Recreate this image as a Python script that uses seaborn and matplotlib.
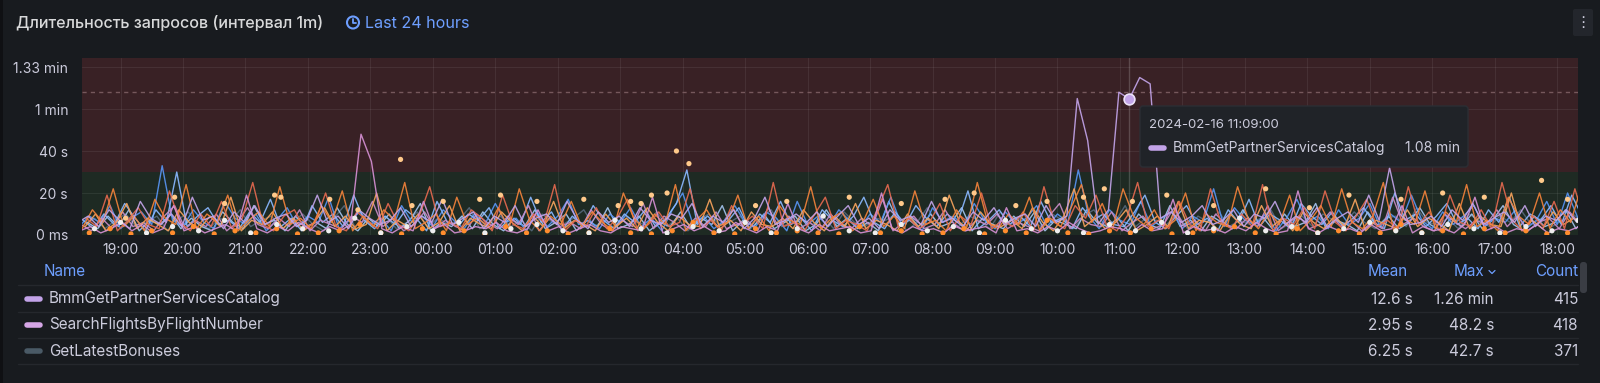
import numpy as np
import pandas as pd
import matplotlib
matplotlib.use("Agg")
import matplotlib.pyplot as plt
import matplotlib.dates as mdates
from matplotlib.patches import FancyBboxPatch, Circle
from matplotlib.lines import Line2D
import seaborn as sns

# ---------------------------------------------------------------
# data (seconds), 10 min sampling
# ---------------------------------------------------------------
bmm_start = "2024-02-15 18:19"
bmm = [6, 9, 4, 12, 7, 3, 16, 8, 5, 10,
       4, 18, 7, 9, 3, 11, 6, 14, 5, 8,
       10, 4, 7, 19, 6, 9, 3, 12, 8, 5,
       7, 13, 4, 9, 6, 17, 5, 8, 11, 3,
       9, 6, 14, 4, 8, 10, 5, 16, 7, 3,
       11, 6, 9, 4, 13, 7, 5, 10, 8, 15,
       4, 9, 6, 12, 3, 8, 18, 5, 7, 10,
       6, 11, 4, 9, 14, 5, 8, 3, 12, 7,
       9, 5, 16, 6, 8, 4, 11, 7, 13, 5,
       8, 10, 4, 14, 6, 9, 65, 45, 5, 12,
       68, 64.8, 75, 72, 8, 11, 6, 9, 14, 5,
       7, 12, 4, 10, 8, 16, 5, 9, 6, 13,
       4, 8, 11, 6, 19, 7, 32, 10, 5, 6,
       9, 4, 12, 7, 15, 5, 8, 11, 6, 14,
       4, 9, 7, 12, 6]

search_start = "2024-02-15 18:21"
search = [2, 4, 1, 3, 6, 2, 5, 1, 3, 14,
          2, 4, 1, 3, 5, 2, 19, 3, 1, 4,
          2, 6, 3, 1, 4, 2, 5, 48, 35, 3,
          1, 4, 2, 16, 3, 5, 1, 2, 4, 3,
          6, 2, 1, 3, 12, 2, 4, 1, 3, 5,
          2, 1, 4, 3, 2, 18, 1, 3, 5, 2,
          4, 1, 2, 6, 3, 1, 4, 2, 15, 3,
          1, 5, 2, 3, 4, 1, 2, 20, 3, 1,
          4, 2, 3, 1, 5, 2, 3, 4, 1, 13,
          2, 3, 1, 4, 2, 6, 3, 1, 2, 4,
          3, 1, 5, 2, 3, 17, 1, 4, 2, 3,
          1, 4, 2, 6, 3, 1, 2, 21, 3, 1,
          4, 2, 3, 1, 5, 2, 3, 14, 1, 4,
          2, 3, 1, 5, 18, 2, 4, 1, 3, 2,
          5, 1, 3, 2, 4]

bonuses_start = "2024-02-15 18:25"
bonuses = [5, 8, 3, 7, 10, 4, 6, 9, 2, 7,
           11, 5, 3, 8, 6, 12, 4, 7, 9, 3,
           6, 10, 5, 2, 8, 14, 4, 7, 5, 9,
           3, 6, 11, 4, 8, 5, 7, 13, 3, 6,
           9, 4, 7, 2, 10, 6, 5, 8, 12, 4,
           7, 3, 9, 6, 5, 11, 4, 8, 2, 7,
           10, 5, 6, 9, 3, 8, 12, 4, 6, 7,
           5, 9, 3, 11, 6, 4, 8, 7, 10, 2,
           6, 13, 5, 8, 4, 9, 7, 3, 11, 5,
           8, 6, 4, 10, 7, 3, 9, 12, 5, 6,
           14, 4, 8, 7, 5, 10, 3, 9, 6, 11,
           4, 7, 5, 8, 12, 3, 6, 9, 4, 10,
           7, 5, 11, 6, 3, 8, 9, 4, 13, 6,
           5, 8, 3, 10, 7, 4, 9, 6, 12, 5,
           8, 4, 7, 10, 6]

orange_start = "2024-02-15 18:23"
orange = [3, 12, 6, 22, 4, 9, 2, 17, 8, 5,
          24, 3, 10, 6, 19, 2, 7, 11, 4, 23,
          5, 8, 3, 14, 6, 21, 2, 9, 4, 12,
          7, 25, 3, 6, 10, 2, 18, 5, 8, 4,
          13, 3, 22, 7, 2, 9, 5, 16, 4, 11,
          6, 2, 20, 8, 3, 10, 5, 24, 2, 7,
          12, 4, 6, 19, 3, 9, 2, 14, 7, 5,
          23, 3, 8, 11, 2, 6, 17, 4, 9, 3,
          21, 5, 7, 2, 12, 4, 25, 6, 3, 10,
          5, 18, 2, 8, 4, 13, 24, 6, 15, 3,
          22, 9, 5, 12, 3, 7, 20, 2, 10, 6,
          4, 23, 8, 3, 11, 5, 19, 2, 7, 14,
          4, 22, 6, 3, 9, 25, 2, 8, 5, 21,
          3, 11, 6, 24, 4, 7, 2, 18, 9, 5,
          20, 3, 12, 6, 23]

salmon_start = "2024-02-15 18:27"
salmon = [8, 4, 19, 2, 7, 13, 5, 3, 21, 6,
          2, 10, 4, 16, 3, 8, 25, 5, 2, 9,
          12, 3, 6, 20, 4, 2, 11, 7, 3, 15,
          5, 2, 9, 23, 4, 6, 3, 12, 8, 2,
          19, 5, 3, 10, 6, 24, 2, 7, 4, 13,
          3, 8, 17, 2, 5, 11, 4, 6, 22, 3,
          7, 2, 14, 5, 9, 3, 25, 4, 6, 2,
          10, 18, 3, 7, 5, 2, 12, 24, 4, 8,
          3, 6, 15, 2, 9, 5, 20, 3, 7, 4,
          11, 2, 23, 6, 3, 14, 8, 19, 5, 2,
          9, 25, 4, 7, 3, 16, 5, 2, 22, 6,
          3, 10, 4, 24, 2, 8, 5, 13, 3, 21,
          6, 2, 9, 17, 4, 7, 3, 23, 5, 11,
          2, 19, 6, 4, 12, 3, 25, 7, 2, 9,
          4, 16, 3, 22, 5]

blue_start = "2024-02-15 18:20"
blue = [4, 9, 6, 14, 3, 8, 11, 5, 33, 7,
        4, 12, 6, 3, 16, 8, 5, 10, 2, 7,
        13, 4, 9, 6, 18, 3, 7, 11, 5, 8,
        2, 14, 6, 9, 4, 12, 7, 3, 10, 5,
        15, 6, 8, 2, 11, 4, 9, 17, 5, 7,
        3, 10, 6, 13, 4, 8, 2, 12, 20, 5,
        9, 3, 7, 14, 6, 4, 11, 8, 2, 16,
        5, 9, 4, 12, 7, 3, 10, 6, 18, 5,
        8, 2, 13, 6, 9, 4, 15, 7, 3, 11,
        5, 8, 14, 4, 10, 6, 31, 9, 3, 12,
        7, 5, 16, 4, 8, 11, 3, 9, 6, 22,
        4, 13, 7, 5, 10, 2, 8, 17, 6, 9,
        3, 12, 5, 8, 15, 4, 10, 6, 19, 7,
        3, 11, 5, 9, 14, 4, 8, 6, 12, 3,
        7, 16, 5, 20, 8]

lightblue_start = "2024-02-15 18:24"
lightblue = [7, 3, 10, 5, 15, 8, 2, 12, 6, 30,
             4, 9, 13, 5, 7, 3, 11, 6, 17, 4,
             8, 2, 14, 6, 10, 4, 19, 7, 3, 9,
             5, 12, 8, 2, 16, 6, 4, 10, 7, 13,
             3, 8, 5, 18, 6, 11, 2, 9, 4, 14,
             7, 3, 10, 6, 12, 4, 8, 15, 31, 5,
             9, 4, 7, 13, 3, 10, 6, 16, 5, 8,
             2, 12, 7, 4, 9, 18, 6, 3, 11, 5,
             14, 8, 4, 10, 6, 21, 3, 7, 12, 5,
             9, 4, 16, 6, 8, 3, 13, 7, 10, 5,
             4, 11, 19, 6, 3, 9, 14, 5, 8, 2,
             12, 6, 17, 4, 10, 7, 3, 15, 9, 5,
             11, 4, 8, 13, 6, 3, 20, 7, 10, 4,
             9, 15, 5, 8, 3, 12, 6, 18, 4, 10,
             7, 14, 5, 19, 9]

pink_start = "2024-02-15 18:22"
pink = [5, 2, 8, 3, 11, 4, 6, 2, 9, 14,
        3, 7, 4, 10, 2, 6, 13, 5, 3, 8,
        4, 12, 2, 7, 5, 3, 9, 6, 16, 4,
        8, 2, 5, 11, 3, 7, 4, 2, 10, 6,
        3, 9, 5, 14, 2, 8, 4, 6, 3, 12,
        5, 2, 7, 4, 15, 3, 9, 6, 2, 8,
        4, 11, 3, 5, 7, 2, 13, 4, 9, 3,
        6, 2, 10, 5, 3, 8, 4, 17, 2, 6,
        9, 3, 5, 12, 4, 2, 7, 5, 10, 3,
        6, 4, 2, 9, 15, 3, 8, 5, 4, 11,
        2, 6, 9, 3, 5, 13, 4, 7, 2, 10,
        5, 3, 8, 4, 14, 2, 6, 9, 3, 5,
        11, 4, 7, 2, 6, 3, 18, 5, 8, 4,
        2, 10, 6, 3, 7, 5, 12, 4, 9, 2,
        6, 8, 3, 11, 5]

lightorange_start = "2024-02-15 18:26"
lightorange = [4, 10, 2, 6, 15, 3, 8, 5, 2, 12,
               6, 3, 9, 4, 18, 2, 7, 5, 11, 3,
               8, 2, 6, 13, 4, 9, 3, 5, 20, 2,
               7, 4, 10, 3, 6, 14, 2, 8, 5, 3,
               11, 6, 2, 9, 4, 16, 3, 7, 5, 2,
               10, 4, 8, 3, 13, 6, 2, 9, 5, 4,
               17, 3, 7, 2, 11, 5, 4, 8, 3, 12,
               6, 2, 9, 4, 15, 3, 7, 5, 2, 10,
               4, 8, 3, 19, 6, 2, 11, 5, 4, 7,
               3, 13, 6, 2, 9, 22, 4, 8, 3, 6,
               12, 2, 5, 9, 4, 16, 3, 7, 6, 2,
               10, 5, 3, 14, 4, 8, 2, 11, 6, 3,
               9, 4, 17, 2, 7, 5, 3, 12, 4, 8,
               6, 2, 15, 3, 9, 5, 4, 20, 2, 7,
               3, 11, 5, 8, 4]

paleblue_start = "2024-02-15 18:28"
paleblue = [6, 3, 9, 4, 12, 2, 7, 5, 10, 3,
            8, 4, 2, 11, 6, 3, 14, 5, 7, 2,
            9, 4, 6, 3, 13, 5, 2, 8, 4, 10,
            3, 7, 15, 2, 6, 4, 9, 3, 11, 5,
            2, 8, 4, 12, 3, 6, 10, 2, 7, 4,
            13, 3, 5, 9, 2, 6, 4, 11, 3, 8,
            5, 14, 2, 7, 4, 10, 3, 6, 9, 2,
            5, 12, 4, 8, 3, 6, 2, 16, 5, 7,
            3, 10, 4, 6, 13, 2, 8, 5, 3, 9,
            4, 11, 2, 7, 5, 3, 12, 6, 4, 8,
            2, 10, 5, 3, 14, 4, 7, 2, 9, 6,
            3, 12, 5, 8, 2, 10, 4, 6, 15, 3,
            7, 5, 2, 11, 4, 9, 3, 6, 13, 5,
            2, 8, 4, 10, 3, 7, 14, 5, 2, 9,
            4, 6, 12, 3, 8]

# isolated points
peach_times = ["19:05", "19:52", "20:40", "21:28", "21:34", "22:21", "22:48", "23:29",
               "23:40", "00:10", "00:45", "01:05", "01:40", "02:25", "02:58", "03:10",
               "03:20", "03:30", "03:45", "03:54", "04:06", "05:10", "05:40", "06:40",
               "07:30", "08:12", "08:40", "09:20", "09:50", "10:25", "10:45", "11:12",
               "11:45", "12:30", "13:20", "14:02", "14:40", "15:30", "16:10", "16:50",
               "17:45", "18:10"]
peach_vals = [8, 18, 15, 19, 18, 17, 12, 36,
              14, 16, 17, 19, 16, 17, 14, 16,
              15, 19, 20, 40, 34, 14, 16, 18,
              15, 17, 20, 14, 16, 18, 22, 16,
              19, 14, 22, 13, 19, 17, 20, 18,
              26, 17]

orange_dot_start = "2024-02-15 18:30"
orange_dots = [1, 3, 0.5, 2, 1, 4, 0.5, 2, 1, 3,
               0.5, 1, 2, 5, 1, 0.5, 3, 1, 2, 0.5,
               4, 1, 2, 0.5, 1, 3, 1, 0.5, 2, 6,
               1, 0.5, 3, 1, 2, 1, 0.5, 4, 1, 2,
               0.5, 1, 3, 0.5, 2, 1, 7, 1, 0.5, 2,
               1, 3, 0.5, 1, 2, 4, 1, 0.5, 3, 1,
               2, 0.5, 1, 5, 1, 2, 0.5, 3, 1, 2,
               0.5, 1]

white_dot_start = "2024-02-15 18:35"
white_dots = [3, 6, 1, 4, 2, 7, 1, 5, 3, 2,
              8, 1, 4, 2, 6, 1, 3, 5, 2, 1,
              7, 3, 1, 4, 2, 6, 1, 3, 9, 2,
              1, 5, 2, 4, 1, 7, 3, 2, 1, 5,
              2, 6, 1, 3, 8, 2, 4, 1, 3, 6,
              2, 1, 5, 3, 1, 4, 2, 7]

legend_names = ["BmmGetPartnerServicesCatalog", "SearchFlightsByFlightNumber", "GetLatestBonuses"]
legend_mean = ["12.6 s", "2.95 s", "6.25 s"]
legend_max = ["1.26 min", "48.2 s", "42.7 s"]
legend_count = ["415", "418", "371"]

y_ticks = [0, 20, 40, 60, 80]
y_labels = ["0 ms", "20 s", "40 s", "1 min", "1.33 min"]

hover_time = "2024-02-16 11:09"
hover_val = 64.8

# ---------------------------------------------------------------
# style
# ---------------------------------------------------------------
BG = "#181b1f"
TXT = "#ccccdc"
BLUE_TXT = "#6e9fff"
W, H = 1600, 383

palette = {
    "GetLatestBonuses": "#55677a",
    "paleblue": "#a3c4ee",
    "blue": "#5794f2",
    "lightblue": "#8ab8ff",
    "pink": "#c98bc6",
    "lightorange": "#f7a35c",
    "salmon": "#e5694f",
    "orange": "#f2823a",
    "SearchFlightsByFlightNumber": "#d58fd3",
    "BmmGetPartnerServicesCatalog": "#c2a3e8",
}

sns.set_theme(style="dark")
plt.rcParams["font.family"] = ["Inter", "DejaVu Sans"]

fig = plt.figure(figsize=(16, 3.83), dpi=100, facecolor=BG)


def fx(x):
    return x / W


def fy(y):
    return 1 - y / H


ax = fig.add_axes([fx(82), fy(235), fx(1578) - fx(82), fy(58) - fy(235)])
ax.set_facecolor(BG)

# long dataframe for seaborn
series = [
    ("GetLatestBonuses", bonuses_start, bonuses),
    ("paleblue", paleblue_start, paleblue),
    ("blue", blue_start, blue),
    ("lightblue", lightblue_start, lightblue),
    ("pink", pink_start, pink),
    ("lightorange", lightorange_start, lightorange),
    ("salmon", salmon_start, salmon),
    ("orange", orange_start, orange),
    ("SearchFlightsByFlightNumber", search_start, search),
    ("BmmGetPartnerServicesCatalog", bmm_start, bmm),
]
frames = []
for name, start, vals in series:
    t = pd.date_range(start, periods=len(vals), freq="10min")
    frames.append(pd.DataFrame({"time": t, "value": vals, "series": name}))
df = pd.concat(frames, ignore_index=True)

x0 = pd.Timestamp("2024-02-15 18:23")
x1 = pd.Timestamp("2024-02-16 18:20")

# thresholds
ax.axhspan(0, 30, color="#1e2a23", zorder=0, lw=0)
ax.axhspan(30, 84.3, color="#392125", zorder=0, lw=0)
ax.axhline(68, color="#76585c", lw=1, ls=(0, (3, 3)), zorder=1)

sns.lineplot(data=df, x="time", y="value", hue="series",
             hue_order=[s[0] for s in series], palette=palette,
             linewidth=1.0, alpha=0.92, legend=False, ax=ax,
             estimator=None, sort=False, zorder=3)


def to_ts(hm):
    day = "2024-02-15" if hm >= "18:23" else "2024-02-16"
    return pd.Timestamp(f"{day} {hm}")


dots = pd.concat([
    pd.DataFrame({"time": pd.date_range(orange_dot_start, periods=len(orange_dots), freq="20min"),
                  "value": orange_dots, "kind": "orange"}),
    pd.DataFrame({"time": pd.date_range(white_dot_start, periods=len(white_dots), freq="25min"),
                  "value": white_dots, "kind": "white"}),
    pd.DataFrame({"time": [to_ts(t) for t in peach_times], "value": peach_vals, "kind": "peach"}),
], ignore_index=True)
sns.scatterplot(data=dots, x="time", y="value", hue="kind",
                palette={"orange": "#ff8c2e", "white": "#eeeeee", "peach": "#ffc98a"},
                s=14, linewidth=0, legend=False, ax=ax, zorder=4)

# hover
ht = pd.Timestamp(hover_time)
ax.axvline(ht, color="#ffffff", alpha=0.18, lw=1, zorder=5)
ax.scatter([ht], [hover_val], s=60, color="#c2a3e8", edgecolor="#ece2f8", linewidth=1.2, zorder=6)

ax.set_xlim(x0, x1)
ax.set_ylim(0, 84.3)
ax.set_yticks(y_ticks)
ax.set_yticklabels(y_labels)
ax.xaxis.set_major_locator(mdates.HourLocator())
ax.xaxis.set_major_formatter(mdates.DateFormatter("%H:%M"))
ax.set_xlabel("")
ax.set_ylabel("")
ax.tick_params(axis="both", colors=TXT, labelsize=10, length=0)
ax.tick_params(axis="y", pad=10)
ax.tick_params(axis="x", pad=6)
ax.grid(True, color="#ffffff", alpha=0.07, lw=0.8)
for sp in ax.spines.values():
    sp.set_visible(False)

# ---------------------------------------------------------------
# overlay in pixel coordinates: title, tooltip, legend table
# ---------------------------------------------------------------
ov = fig.add_axes([0, 0, 1, 1], zorder=10)
ov.set_xlim(0, W)
ov.set_ylim(H, 0)
ov.axis("off")
ov.patch.set_alpha(0)

ov.add_patch(plt.Rectangle((0, 0), 3, H, facecolor="#0f1013", edgecolor="none"))

ov.text(16, 23, "Длительность запросов (интервал 1m)", fontsize=11.6, color="#d8d9da",
        va="center", ha="left", fontweight="medium")
ov.add_patch(Circle((353, 22.5), 6, fill=False, edgecolor=BLUE_TXT, lw=1.5))
ov.plot([353, 353, 356], [19, 23, 23], color=BLUE_TXT, lw=1.3, solid_capstyle="round")
ov.text(365, 23, "Last 24 hours", fontsize=11.6, color=BLUE_TXT, va="center", ha="left")

ov.add_patch(FancyBboxPatch((1573, 9), 20, 27, boxstyle="round,pad=0,rounding_size=2",
                            facecolor="#23262c", edgecolor="none"))
ov.text(1583, 23, "⋮", fontsize=11, color=TXT, va="center", ha="center",
        family=["DejaVu Sans"])

# tooltip
ov.add_patch(FancyBboxPatch((1140, 106), 328, 61, boxstyle="round,pad=0,rounding_size=3",
                            facecolor="#202328", edgecolor="#2b2e34", lw=1))
ov.text(1149, 125, "2024-02-16 11:09:00", fontsize=9.5, color=TXT, va="center", ha="left")
ov.add_line(Line2D([1151, 1164], [148, 148], color="#c2a3e8", lw=4, solid_capstyle="round"))
ov.text(1173, 148, legend_names[0], fontsize=10, color=TXT, va="center", ha="left")
ov.text(1460, 148, "1.08 min", fontsize=10, color=TXT, va="center", ha="right")

# legend table
FS = 11
ov.text(44, 272, "Name", fontsize=FS, color=BLUE_TXT, va="center", ha="left")
ov.text(1408, 272, "Mean", fontsize=FS, color=BLUE_TXT, va="center", ha="right")
ov.text(1484, 272, "Max", fontsize=FS, color=BLUE_TXT, va="center", ha="right")
ov.plot([1489, 1492, 1495], [270.5, 273.5, 270.5], color=BLUE_TXT, lw=0.9)
ov.text(1578, 272, "Count", fontsize=FS, color=BLUE_TXT, va="center", ha="right")
ov.plot([18, 1578], [285, 285], color="#25282d", lw=1)

row_y = [299, 325, 351]
swatch_cols = ["#c2a3e8", "#d5a6e6", "#4a5a66"]
for i in range(3):
    y = row_y[i]
    ov.add_line(Line2D([27, 40], [y, y], color=swatch_cols[i], lw=4, solid_capstyle="round"))
    ov.text(49, y, legend_names[i], fontsize=FS, color=TXT, va="center", ha="left")
    ov.text(1413, y, legend_mean[i], fontsize=FS, color=TXT, va="center", ha="right")
    ov.text(1494, y, legend_max[i], fontsize=FS, color=TXT, va="center", ha="right")
    ov.text(1578, y, legend_count[i], fontsize=FS, color=TXT, va="center", ha="right")
    ov.plot([18, 1578], [y + 13, y + 13], color="#25282d", lw=1)

ov.add_patch(FancyBboxPatch((1580, 262), 7, 31, boxstyle="round,pad=0,rounding_size=3",
                            facecolor="#3a3d44", edgecolor="none"))

fig.savefig("out.png", dpi=100, facecolor=BG)
